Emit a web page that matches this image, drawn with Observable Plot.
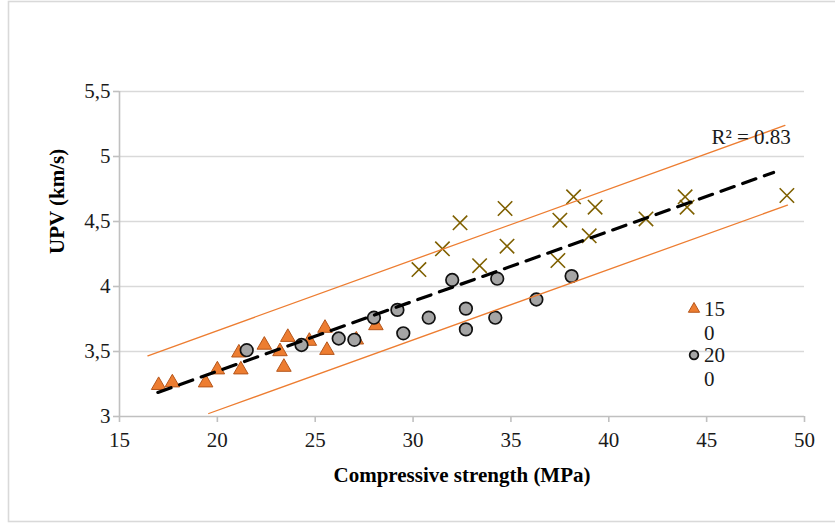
<!DOCTYPE html>
<html><head><meta charset="utf-8">
<script src="https://cdn.jsdelivr.net/npm/d3@7"></script>
<script src="https://cdn.jsdelivr.net/npm/@observablehq/plot@0.6"></script>
<style>body{margin:0;background:#fff} svg{display:block}</style>
</head><body><div id="chart"></div>
<script>
// Series "150" (triangles)
const s150X = [17.0, 17.7, 19.4, 20.0, 21.1, 21.2, 22.4, 23.2, 23.4, 23.6, 24.7, 25.5, 25.6, 27.1, 28.1];
const s150Y = [3.24, 3.26, 3.26, 3.36, 3.49, 3.36, 3.55, 3.50, 3.38, 3.61, 3.58, 3.68, 3.51, 3.59, 3.70];
// Series "200" (circles)
const s200X = [21.5, 24.3, 26.2, 27.0, 28.0, 29.2, 29.5, 30.8, 32.0, 32.7, 32.7, 34.2, 34.3, 36.3, 38.1];
const s200Y = [3.51, 3.55, 3.60, 3.59, 3.76, 3.82, 3.64, 3.76, 4.05, 3.83, 3.67, 3.76, 4.06, 3.90, 4.08];
// Third series (crosses)
const s250X = [30.3, 31.5, 32.4, 33.4, 34.7, 34.8, 37.4, 37.5, 38.2, 39.0, 39.3, 41.9, 43.9, 44.0, 49.1];
const s250Y = [4.13, 4.29, 4.49, 4.16, 4.60, 4.31, 4.20, 4.51, 4.69, 4.39, 4.61, 4.52, 4.69, 4.61, 4.70];
// Trend line and bands (endpoints)
const trendX = [16.96, 48.42];
const trendY = [3.185, 4.877];
const upperX = [16.45, 49.0];
const upperY = [3.467, 5.239];
const lowerX = [19.56, 49.13];
const lowerY = [3.023, 4.626];
// Ticks and labels
const xTicks = [15, 20, 25, 30, 35, 40, 45, 50];
const yTicks = [3, 3.5, 4, 4.5, 5, 5.5];
const xTitle = "Compressive strength (MPa)";
const yTitle = "UPV (km/s)";
const r2Label = "R² = 0.83";
const r2X = 49.3, r2Y = 5.10;
const legendLabels = ["150", "200"];

const pts = (xs, ys) => xs.map((x, i) => ({x, y: ys[i]}));

const plot = Plot.plot({
  width: 835, height: 523,
  marginLeft: 119, marginRight: 31, marginTop: 91, marginBottom: 107,
  style: {fontFamily: "'Liberation Serif', 'Times New Roman', serif", fontSize: "21px", color: "#000", background: "#fff"},
  x: {domain: [15, 50]},
  y: {domain: [3, 5.5]},
  marks: [
    Plot.gridY(yTicks.filter(v => v > 3), {stroke: "#d9d9d9", strokeOpacity: 1, strokeWidth: 1.6}),
    Plot.ruleY([3], {stroke: "#c0c0c0", strokeWidth: 1.6}),
    Plot.ruleX([15], {stroke: "#c0c0c0", strokeWidth: 1.6}),
    Plot.axisX({ticks: xTicks, tickSize: 6, tickPadding: 10, stroke: "#c0c0c0", strokeWidth: 1.6, fill: "#1a1a1a", fontSize: 21, label: null, tickFormat: d => String(d)}),
    Plot.axisY({ticks: yTicks, tickSize: 6, tickPadding: 3, stroke: "#c0c0c0", strokeWidth: 1.6, fill: "#1a1a1a", fontSize: 21, label: null, tickFormat: d => String(d).replace(".", ",")}),
    Plot.dot(pts(s150X, s150Y), {x: "x", y: "y", symbol: "triangle", r: 5.4, fill: "#ed7d31", stroke: "#b5561b", strokeWidth: 1}),
    Plot.dot(pts(s200X, s200Y), {x: "x", y: "y", symbol: "circle", r: 6.3, fill: "#a5a5a5", stroke: "#111", strokeWidth: 1.7}),
    Plot.dot(pts(s250X, s250Y), {x: "x", y: "y", symbol: "times", r: 6.6, stroke: "#7f6000", strokeWidth: 1.6}),
    Plot.line(pts(upperX, upperY), {x: "x", y: "y", stroke: "#ed7d31", strokeWidth: 1.3}),
    Plot.line(pts(lowerX, lowerY), {x: "x", y: "y", stroke: "#ed7d31", strokeWidth: 1.3}),
    Plot.line(pts(trendX, trendY), {x: "x", y: "y", stroke: "#000", strokeWidth: 3.2, strokeDasharray: "14,9"}),
    Plot.text([{x: r2X, y: r2Y, t: r2Label}], {x: "x", y: "y", text: "t", textAnchor: "end", lineAnchor: "bottom", fontSize: 21, fill: "#1a1a1a"}),
    Plot.text([xTitle], {text: d => d, frameAnchor: "bottom", lineAnchor: "bottom", dy: 65, fontWeight: "bold", fontSize: 21, fill: "#000"}),
    Plot.text([yTitle], {text: d => d, frameAnchor: "left", lineAnchor: "bottom", rotate: -90, dx: -56, fontWeight: "bold", fontSize: 21, fill: "#000"})
  ]
});

const svg = d3.select(plot);
// chart border
svg.append("rect").attr("x", 8.5).attr("y", 1.5).attr("width", 840).attr("height", 520)
  .attr("fill", "none").attr("stroke", "#d9d9d9").attr("stroke-width", 1.6);
// legend
const lg = svg.append("g").attr("font-family", "'Liberation Serif', serif").attr("font-size", 21)
  .attr("fill", "#1a1a1a").attr("text-anchor", "start");
const rows = [
  {cy: 309, sym: d3.symbolTriangle, size: 55, fill: "#ed7d31", stroke: "#b5561b", sw: 1},
  {cy: 355, sym: d3.symbolCircle, size: 60, fill: "#a5a5a5", stroke: "#111", sw: 1.7}
];
rows.forEach((r, i) => {
  lg.append("path").attr("d", d3.symbol(r.sym, r.size)()).attr("transform", `translate(694,${r.cy})`)
    .attr("fill", r.fill).attr("stroke", r.stroke).attr("stroke-width", r.sw);
  const lab = legendLabels[i];
  lg.append("text").attr("x", 704).attr("y", r.cy + 7).text(lab.slice(0, 2));
  lg.append("text").attr("x", 704).attr("y", r.cy + 31).text(lab.slice(2));
});

document.getElementById("chart").append(plot);
</script>
</body></html>
